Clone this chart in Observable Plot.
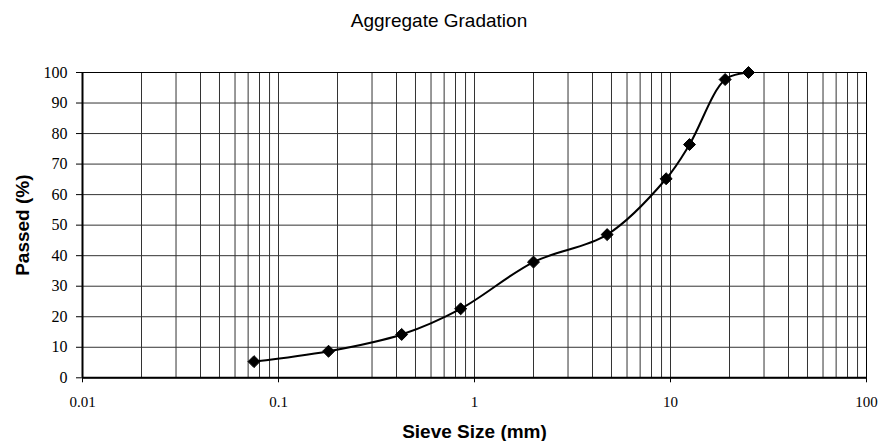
<!DOCTYPE html>
<html>
<head>
<meta charset="utf-8">
<script src="https://cdn.jsdelivr.net/npm/d3@7"></script>
<script src="https://cdn.jsdelivr.net/npm/@observablehq/plot@0.6"></script>
<style>
  html, body { margin: 0; padding: 0; background: #fff; }
  #title { width: 878px; height: 40px; box-sizing: border-box; padding-top: 11px; text-align: center;
    font-family: "Liberation Sans", Arial, sans-serif; font-size: 19px; line-height: 19px; color: #000; }
</style>
</head>
<body>
<div id="title">Aggregate Gradation</div>
<div id="chart"></div>
<script>
const title = "Aggregate Gradation";
const xLabel = "Sieve Size (mm)";
const yLabel = "Passed (%)";
const sieveSizes = [0.075, 0.18, 0.425, 0.85, 2.0, 4.75, 9.5, 12.5, 19, 25];
const passed = [5.3, 8.7, 14.2, 22.6, 37.9, 46.9, 65.2, 76.4, 97.7, 100];
const xTicks = [0.01, 0.1, 1, 10, 100];
const xTickLabels = ["0.01", "0.1", "1", "10", "100"];
const yTicks = [0, 10, 20, 30, 40, 50, 60, 70, 80, 90, 100];

const data = sieveSizes.map((s, i) => ({size: s, pass: passed[i]}));
const xGrid = [];
for (const d of [0.01, 0.1, 1, 10]) for (let k = 2; k <= 10; k++) xGrid.push(+(d * k).toPrecision(3));
const yGrid = yTicks.filter(v => v > 0);

const chart = Plot.plot({
  width: 878,
  height: 401,
  marginLeft: 82,
  marginRight: 12,
  marginTop: 32,
  marginBottom: 63.7,
  style: {fontFamily: "'Liberation Serif', 'Times New Roman', serif", color: "#000", background: "#fff"},
  x: {type: "log", domain: [0.01, 100]},
  y: {domain: [0, 100]},
  marks: [
    Plot.ruleX(xGrid, {stroke: "#333", strokeWidth: 1}),
    Plot.ruleY(yGrid, {stroke: "#333", strokeWidth: 1}),
    Plot.frame({stroke: "#000", strokeWidth: 1}),
    Plot.ruleX([0.01], {stroke: "#000", strokeWidth: 2}),
    Plot.ruleY([0], {stroke: "#000", strokeWidth: 2}),
    Plot.axisX({ticks: xTicks, tickFormat: (d, i) => xTickLabels[xTicks.indexOf(d)], tickSize: 5, tickPadding: 14, fontSize: 15, label: null, fontFamily: "'Liberation Serif', serif"}),
    Plot.axisY({ticks: yTicks, tickSize: 6, tickPadding: 9, fontSize: 16, label: null, fontFamily: "'Liberation Serif', serif"}),
    Plot.line(data, {x: "size", y: "pass", curve: "catmull-rom", stroke: "#000", strokeWidth: 2}),
    Plot.dot(data, {x: "size", y: "pass", symbol: "diamond2", r: 5.4, fill: "#000", stroke: "#000", strokeWidth: 1}),
    Plot.text([yLabel], {frameAnchor: "left", rotate: -90, dx: -59.5, fontSize: 19, fontWeight: "bold", fontFamily: "'Liberation Sans', Arial, sans-serif", lineAnchor: "middle", textAnchor: "middle"}),
    Plot.text([xLabel], {frameAnchor: "bottom", dy: 54, fontSize: 19, fontWeight: "bold", fontFamily: "'Liberation Sans', Arial, sans-serif", lineAnchor: "middle", textAnchor: "middle"})
  ]
});
document.getElementById("chart").appendChild(chart);
</script>
</body>
</html>
